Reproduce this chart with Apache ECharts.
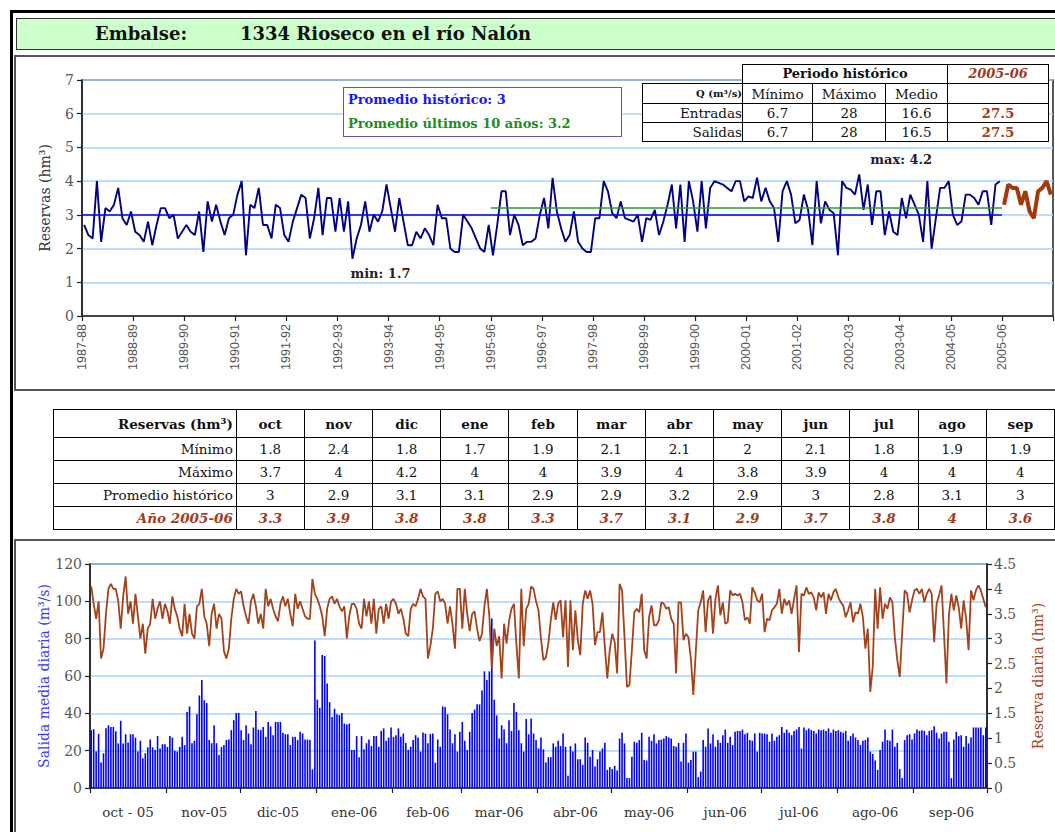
<!DOCTYPE html>
<html><head><meta charset="utf-8">
<script src="https://cdn.jsdelivr.net/npm/echarts@6/dist/echarts.min.js"></script>
<style>
html,body{margin:0;padding:0;width:1055px;height:832px;overflow:hidden;background:#fff;}
.abs{position:absolute;box-sizing:border-box;}
#outer{left:10px;top:10px;width:1100px;height:900px;border-left:3px solid #000;border-top:3px solid #000;z-index:0;}
#header{left:16px;top:18px;width:1100px;height:32px;background:#ccffcc;border:1.5px solid #333;z-index:0;font:bold 18px 'DejaVu Serif';color:#111;}
#header span{position:absolute;top:4px;}
#panelTop{left:14px;top:55px;width:1100px;height:336px;border:2px solid #555;z-index:0;}
#panelBot{left:14px;top:539px;width:1100px;height:400px;border:2px solid #555;z-index:0;}
#chart{left:0;top:0;width:1055px;height:832px;z-index:1;}
#legendBox{left:343px;top:87px;width:279px;height:50px;border:1.5px solid #5a5ab0;background:#fff;z-index:2;font:bold 13px 'DejaVu Serif';}
#legendBox div{position:absolute;left:4px;}
table{border-collapse:collapse;table-layout:fixed;font-family:'DejaVu Serif';color:#111;}
#qTable{left:642px;top:64px;z-index:2;}
#qTable td{border:1px solid #000;background:#fff;padding:0;text-align:center;font-size:13.5px;line-height:14px;overflow:hidden;white-space:nowrap;}
#monthTable{left:53px;top:409px;z-index:2;}
#monthTable td{border:1px solid #000;padding:0;text-align:center;font-size:13.5px;overflow:hidden;white-space:nowrap;}
.brown{color:#a33c1c;}
</style></head>
<body>
<div id="outer" class="abs"></div>
<div id="header" class="abs"><span style="left:78px">Embalse:</span><span id="title" style="left:223px"></span></div>
<div id="panelTop" class="abs"></div>
<div id="panelBot" class="abs"></div>
<div id="chart" class="abs"></div>
<div id="legendBox" class="abs"><div id="lg1" style="top:4px;color:#1515ff"></div><div id="lg2" style="top:28px;color:#1e8c1e"></div></div>
<table id="qTable" class="abs"></table>
<table id="monthTable" class="abs"></table>
<script>
// ---------- DATA ----------
const embalse = '1334 Rioseco en el río Nalón';
const yearLabels = ['1987-88','1988-89','1989-90','1990-91','1991-92','1992-93','1993-94','1994-95','1995-96','1996-97','1997-98','1998-99','1999-00','2000-01','2001-02','2002-03','2003-04','2004-05','2005-06'];
// monthly reserves (hm3) oct..sep for each historical year
const reservasHistoricas = [
 [2.7,2.4,2.3,4.0,2.2,3.2,3.1,3.3,3.8,2.9,2.7,3.1],
 [2.5,2.4,2.2,2.8,2.1,2.7,3.2,3.2,2.9,3.0,2.3,2.5],
 [2.7,2.5,2.4,3.1,1.9,3.4,2.8,3.3,2.8,2.4,2.9,3.0],
 [3.6,4.0,1.8,3.3,3.2,3.8,2.7,2.7,2.3,3.3,3.2,2.4],
 [2.2,2.8,3.2,3.6,3.5,2.3,2.9,3.8,2.4,3.5,3.5,2.5],
 [3.5,2.5,3.4,1.7,2.3,2.7,3.4,2.5,3.0,2.8,3.1,3.9],
 [3.2,2.5,3.5,2.8,2.1,2.1,2.5,2.3,2.6,2.4,2.1,3.3],
 [2.9,2.9,2.0,1.9,1.9,3.0,2.8,2.6,2.3,2.0,1.9,2.7],
 [1.8,2.7,3.7,3.7,2.4,3.0,2.7,2.1,2.2,2.2,2.3,3.0],
 [3.5,2.6,4.1,3.1,2.6,2.2,2.4,3.1,2.2,2.0,1.9,1.9],
 [2.9,2.9,4.0,3.7,3.05,2.9,3.4,2.9,2.85,2.8,3.0,2.2],
 [2.9,2.85,3.15,2.4,2.8,3.3,3.9,2.6,3.9,2.2,4.0,3.4],
 [2.5,4.0,2.6,3.8,4.0,3.95,3.9,3.8,3.7,4.0,4.0,3.4],
 [3.55,3.5,4.1,3.4,3.8,3.4,3.2,2.2,3.7,4.0,3.6,2.75],
 [2.85,3.6,3.15,2.1,4.0,2.75,3.4,3.15,3.05,1.8,4.0,3.8],
 [3.75,3.6,4.2,3.15,3.9,2.7,3.7,3.7,2.4,3.1,2.5,2.4],
 [3.5,2.9,3.6,3.3,3.0,2.2,4.0,2.0,2.9,3.8,3.8,4.0],
 [3.0,2.7,2.8,3.6,3.6,3.5,3.3,3.7,3.7,2.7,3.9,4.0]
];
const promedioHistorico = 3;
const promedio10 = 3.2;
const mesesTabla = ['oct','nov','dic','ene','feb','mar','abr','may','jun','jul','ago','sep'];
const minimoMes = [1.8,2.4,1.8,1.7,1.9,2.1,2.1,2,2.1,1.8,1.9,1.9];
const maximoMes = [3.7,4,4.2,4,4,3.9,4,3.8,3.9,4,4,4];
const promedioMes = [3,2.9,3.1,3.1,2.9,2.9,3.2,2.9,3,2.8,3.1,3];
const anio0506 = [3.3,3.9,3.8,3.8,3.3,3.7,3.1,2.9,3.7,3.8,4,3.6];
const qCabecera = ['Mínimo','Máximo','Medio'];
const qEntradas = [6.7,28,16.6,27.5];
const qSalidas = [6.7,28,16.5,27.5];
const mesesEje = ['oct - 05','nov-05','dic-05','ene-06','feb-06','mar-06','abr-06','may-06','jun-06','jul-06','ago-06','sep-06'];
// daily mean outflow (m3/s), one row per month
const salidaDiaria = [
 [31,31.5,19.5,29,13.6,18.6,32,33.6,32.7,32.7,30.4,23.9,36,23.9,28.8,24.4,28.8,28.8,27,19.5,25.3,16,18.6,21.8,26,21.8,20.4,27.8,21.2,23.5,23.5],
 [22,27.8,27,20,19.5,22,27.4,23,40.7,43.7,24,25.3,39.5,49.6,57.9,47,45.5,25.7,24,33.6,24,17.7,22,23,25.7,26,31,36.3,40.2,40.2],
 [31,25.7,33.6,29.2,23.5,32.4,41.2,31.3,31,32.7,27.4,35.4,33,28.3,35.4,35.4,35.4,29.6,28.8,28.8,23,27.4,27.4,25.7,30.1,29.2,26,26,25.7,10,79],
 [47.3,43,71.3,70.8,56,46,38,42.5,39.5,39,40.2,34.5,34,34.5,20.4,20.4,27.8,16.5,27.8,20.7,24,26,22.5,27.8,27.8,22.1,30.6,31.9,25.3,27,32.4],
 [27.4,28.3,31.9,27.4,29.2,24.2,20.4,22.1,25.7,28.3,27,19.5,29.7,29.2,24,29,29.2,13.6,26,22.1,43.7,43.4,39.5,31.3,24,28.8,19.5,30.1],
 [35.4,25.3,20.4,30.1,40.2,42,44.8,44.8,52.2,62.5,57.9,62.5,90.8,47.3,38.9,26.5,33.6,31.3,24,36.3,30.6,45.5,40.7,31,24,19.5,37,28.8,37.2,29.2,25.7],
 [21.2,27.1,20.7,13.6,16.5,16.5,23.9,22.1,25.3,22.5,29.2,22.1,6.5,22.5,19.5,23.9,15.4,15.4,12.4,27.1,24.2,16.8,20.4,11.5,15.4,19.5,21.2,24.2,9.7,11.2],
 [10.1,11.9,9.4,26.5,29.6,23.9,5.3,5.3,16.8,24.8,24.2,25.7,29.6,15,14.7,27.4,25.3,28.8,23.9,25.7,26,26.5,27.8,27.1,26.5,22.5,22.1,24.2,14.2,24.2,29.2],
 [13.6,15,19.5,19.5,5.8,8.8,25.7,22.1,31.9,23.9,28.8,22.1,25.7,24.2,28.3,31.3,24.2,27.4,23,30.1,30.6,30.6,31.3,28.8,29.6,25.7,25.3,29.2,19.5,29.6],
 [29.2,29.2,28.8,24.8,29.2,25.3,27.4,28.3,32.7,29.6,31.3,29.6,28.3,30.6,31.3,32.7,21.2,32.4,31,31.9,31,30.6,29.2,31.3,31,31.3,30.6,31.9,29.6,31.3,30.6],
 [31,30.1,29.6,30.6,25.3,27.8,29.2,27.1,25.7,23,25.3,25.7,27.1,19.5,18.2,14.7,9.7,20.4,24.8,31.3,25.7,25.3,31.3,22.1,24.2,10.1,5.3,25.7,28.3,28.8,26],
 [29.2,31.3,30.6,31,30.6,28.3,30.6,31,33.1,29.6,26.5,29.2,30.1,30.1,24.8,5.3,26,30.1,27.8,28.3,22.1,27.8,23.9,27.1,32.4,32.4,32.4,32.4,28.3,32.4]
];
// daily reserve (hm3), one row per month
const reservaDiaria = [
 [4.05,3.7,3.4,3.75,2.6,2.8,3.5,4.0,4.1,4.0,4.0,3.75,3.2,3.85,4.25,3.5,3.75,3.3,3.9,3.45,3.0,3.3,2.7,3.2,3.3,3.8,3.4,3.6,3.75,3.4,3.7],
 [3.55,3.3,3.85,3.6,3.45,3.2,3.05,3.7,3.1,3.5,3.1,3.0,3.65,3.7,4.0,3.45,3.3,2.85,3.5,3.7,3.2,3.5,3.4,2.75,2.6,2.8,3.4,3.8,4.0,3.9],
 [3.95,3.65,3.45,3.3,3.75,3.9,3.65,3.3,3.5,3.2,4.0,3.65,3.8,3.6,3.45,3.35,3.7,3.85,3.65,3.8,3.5,3.25,3.9,3.6,3.75,3.6,3.45,3.4,3.4,4.2,3.9],
 [3.8,3.65,3.45,3.05,3.6,3.8,3.85,3.7,3.8,3.65,3.55,3.65,3.0,3.45,3.7,3.7,3.6,3.3,3.2,3.8,3.45,3.75,3.3,3.8,3.1,3.6,3.65,3.3,3.7,3.4,3.75],
 [3.8,3.7,3.5,3.6,3.4,3.1,3.05,3.6,3.7,3.65,3.8,4.0,3.85,3.8,2.6,2.85,3.2,3.9,3.95,3.75,3.8,3.7,3.3,3.65,3.3,2.8,4.0,4.0],
 [3.2,4.0,3.5,3.15,3.5,3.55,3.2,2.95,3.1,3.65,4.0,3.45,2.4,3.2,2.85,3.05,2.2,3.3,2.9,3.35,3.6,3.7,2.9,2.2,4.0,2.85,3.6,3.7,4.05,4.0,3.75],
 [3.57,3.0,2.57,2.62,2.9,3.37,3.73,3.38,3.7,3.77,3.03,3.77,2.43,3.77,2.77,3.57,2.97,2.67,3.7,3.97,3.8,3.97,3.7,2.87,3.13,3.13,3.53,2.83,2.2,2.77],
 [3.1,2.93,2.3,4.1,3.97,3.03,2.03,2.07,2.77,3.53,3.6,3.53,3.9,2.77,2.6,3.43,3.67,3.27,3.27,3.37,3.73,3.7,3.6,3.63,3.4,3.3,2.3,3.73,3.73,2.97,3.1],
 [3.03,2.6,1.87,2.73,3.57,3.73,3.97,3.13,3.77,3.87,3.1,3.8,4.07,3.47,3.73,3.3,3.33,3.97,3.87,3.9,3.87,3.9,3.73,3.37,3.43,3.3,4.03,3.93,3.77,3.73],
 [3.9,3.13,3.4,3.37,3.57,3.63,3.7,4.0,3.5,3.8,3.67,3.77,3.5,3.8,4.07,2.73,3.9,3.87,4.03,3.9,3.93,3.83,3.57,3.93,3.83,3.93,3.5,3.9,3.77,3.93,4.0],
 [3.83,3.73,3.67,3.43,3.57,3.73,3.33,3.53,3.5,3.7,3.43,2.8,3.2,1.93,2.43,4.0,3.2,4.03,3.4,3.7,3.6,3.83,3.73,3.03,2.57,2.23,3.13,3.97,3.9,3.53,3.77],
 [3.97,4.0,3.9,4.0,3.73,3.9,4.0,3.9,2.93,3.7,3.87,4.07,3.1,2.1,3.47,3.9,3.57,3.87,3.63,3.2,3.77,3.4,2.77,3.97,3.77,3.97,4.07,3.97,3.8,3.63]
];

// ---------- HTML parts ----------
document.getElementById('title').textContent = embalse;
document.getElementById('lg1').textContent = 'Promedio histórico: ' + promedioHistorico;
document.getElementById('lg2').textContent = 'Promedio últimos 10 años: ' + promedio10;

(function(){
  const w = [100,70,73,62,101];
  let h = '<colgroup>' + w.map(x=>'<col style="width:'+x+'px">').join('') + '</colgroup>';
  h += '<tr style="height:19px"><td style="border:none;background:transparent"></td><td colspan="3" style="font-weight:bold;font-size:13px">Periodo histórico</td><td class="brown" style="font-weight:bold;font-style:italic;font-size:13px">2005-06</td></tr>';
  h += '<tr style="height:20px"><td style="text-align:right;font-weight:bold;font-size:10px">Q (m³/s)</td>' + qCabecera.map(c=>'<td>'+c+'</td>').join('') + '<td></td></tr>';
  const row = (lab, arr) => '<tr style="height:19px"><td style="text-align:right">'+lab+'</td>' + arr.slice(0,3).map(v=>'<td>'+v+'</td>').join('') + '<td class="brown" style="font-weight:bold">'+arr[3]+'</td></tr>';
  h += row('Entradas', qEntradas) + row('Salidas', qSalidas);
  document.getElementById('qTable').innerHTML = h;
})();

(function(){
  let h = '<colgroup><col style="width:184px">' + mesesTabla.map(()=>'<col style="width:69.2px">').join('') + '</colgroup>';
  h += '<tr style="height:28px"><td style="text-align:right;font-weight:bold;padding-right:3px">Reservas (hm³)</td>' + mesesTabla.map(m=>'<td style="font-weight:bold">'+m+'</td>').join('') + '</tr>';
  const row = (lab, arr, cls) => '<tr style="height:23px"><td style="text-align:right;padding-right:3px" '+cls+'>'+lab+'</td>' + arr.map(v=>'<td '+cls+'>'+v+'</td>').join('') + '</tr>';
  h += row('Mínimo', minimoMes, '');
  h += row('Máximo', maximoMes, '');
  h += row('Promedio histórico', promedioMes, '');
  h += row('Año 2005-06', anio0506, 'class="brown" style="font-weight:bold;font-style:italic"').replace('padding-right:3px" class','padding-right:3px;font-weight:bold;font-style:italic" class');
  document.getElementById('monthTable').innerHTML = h;
})();

// ---------- CHART ----------
const hist = reservasHistoricas.flat();
const nHist = hist.length;               // 216 months
const nTot = nHist + anio0506.length;     // 228 months
const histData = hist.map((v,i)=>[i+0.5, v]);
const curData = anio0506.map((v,j)=>[nHist+j+0.5, v]);
let minI = 0, maxI = 0;
hist.forEach((v,i)=>{ if (v < hist[minI]) minI = i; if (v > hist[maxI]) maxI = i; });

const dayCats = [];
const monthStart = new Set();
const midLabel = new Map();
let acc = 0;
salidaDiaria.forEach((arr,m)=>{
  const n = arr.length;
  monthStart.add(acc);
  midLabel.set(acc + Math.floor(n/2), mesesEje[m]);
  for (let d=1; d<=n; d++) dayCats.push(d + ' ' + mesesEje[m]);
  acc += n;
});
const salida = salidaDiaria.flat();
const reserva = reservaDiaria.flat();

const serif = 'DejaVu Serif';
const axisLine = {show:true, lineStyle:{color:'#222', width:1.5}};
const tick = {show:true, length:5, lineStyle:{color:'#222', width:1.2}};
const split = {show:true, lineStyle:{color:'#a9d3ff', width:1.5}};

const chart = echarts.init(document.getElementById('chart'), null, {renderer:'svg', width:1055, height:832});
chart.setOption({
  animation:false,
  grid:[
    {left:82, top:80, width:971, height:236, show:true, borderColor:'#222', borderWidth:1.5},
    {left:90, top:564, width:897, height:224, show:true, borderColor:'#222', borderWidth:1.5}
  ],
  xAxis:[
    {gridIndex:0, type:'value', min:0, max:nTot, interval:12, axisLine, axisTick:tick, splitLine:{show:false},
     axisLabel:{rotate:90, margin:8, fontFamily:'Liberation Sans', fontSize:12.5, color:'#555',
       formatter:(v)=>{ const k = Math.round(v/12); return k < yearLabels.length ? yearLabels[k] : ''; }}},
    {gridIndex:1, type:'category', data:dayCats, boundaryGap:true, axisLine,
     axisTick:{show:true, length:5, interval:(i)=>monthStart.has(i), lineStyle:{color:'#222', width:1.2}},
     splitLine:{show:false},
     axisLabel:{interval:(i)=>midLabel.has(i), formatter:(v,i)=>midLabel.get(i) || '', margin:17, fontFamily:serif, fontSize:13.5, color:'#333'}}
  ],
  yAxis:[
    {gridIndex:0, type:'value', min:0, max:7, interval:1, axisLine, axisTick:tick, splitLine:split,
     name:'Reservas (hm³)', nameLocation:'middle', nameGap:30, nameRotate:90,
     nameTextStyle:{fontFamily:serif, fontSize:14, color:'#333'},
     axisLabel:{fontFamily:serif, fontSize:14, color:'#555', margin:8}},
    {gridIndex:1, type:'value', min:0, max:120, interval:20, axisLine, axisTick:tick, splitLine:split,
     name:'Salida media diaria (m³/s)', nameLocation:'middle', nameGap:39, nameRotate:90, nameMoveOverlap:false,
     nameTextStyle:{fontFamily:serif, fontSize:14, color:'#3a3aff'},
     axisLabel:{fontFamily:serif, fontSize:14, color:'#555', margin:8}},
    {gridIndex:1, type:'value', position:'right', min:0, max:4.5, interval:0.5, axisLine, axisTick:tick, splitLine:{show:false},
     name:'Reserva diaria (hm³)', nameLocation:'middle', nameGap:44, nameRotate:90,
     nameTextStyle:{fontFamily:serif, fontSize:14, color:'#a0451e'},
     axisLabel:{fontFamily:serif, fontSize:14, color:'#555', margin:7}}
  ],
  series:[
    {type:'line', xAxisIndex:0, yAxisIndex:0, data:histData, symbol:'none', z:4,
     lineStyle:{color:'#000080', width:1.9},
     markLine:{silent:true, symbol:['none','none'], label:{show:false},
       lineStyle:{color:'#0000ff', width:1.5, type:'solid'},
       data:[
         [{coord:[0, promedioHistorico]}, {coord:[nHist, promedioHistorico]}],
         [{coord:[96, promedio10], lineStyle:{color:'#2e9a2e', width:1.5, type:'solid'}}, {coord:[nHist, promedio10]}]
       ]},
     markPoint:{silent:true, symbol:'circle', symbolSize:1, itemStyle:{color:'rgba(0,0,0,0)'},
       label:{show:true, position:'inside', fontFamily:serif, fontWeight:'bold', fontSize:13, color:'#222'},
       data:[
         {coord:[minI+0.5, hist[minI]], label:{formatter:'min: ' + hist[minI], offset:[28,15]}},
         {coord:[maxI+0.5, hist[maxI]], label:{formatter:'max: ' + hist[maxI], offset:[42,-15]}}
       ]}
    },
    {type:'line', xAxisIndex:0, yAxisIndex:0, data:curData, symbol:'none', z:5,
     lineStyle:{color:'#a3380a', width:4}},
    {type:'bar', xAxisIndex:1, yAxisIndex:1, data:salida, barWidth:1.6, itemStyle:{color:'#0000ff'}, z:2},
    {type:'line', xAxisIndex:1, yAxisIndex:2, data:reserva, symbol:'none', z:3,
     lineStyle:{color:'#a5421a', width:1.8}}
  ]
});
</script>
</body></html>
